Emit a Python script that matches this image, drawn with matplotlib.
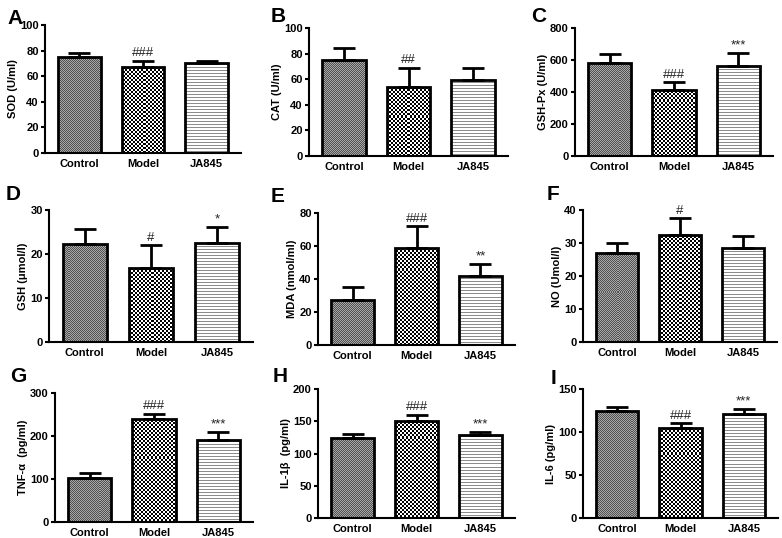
import numpy as np
import matplotlib
matplotlib.use("Agg")
import matplotlib.pyplot as plt

plt.rcParams['font.family'] = ['Liberation Sans', 'DejaVu Sans']

groups = ["Control", "Model", "JA845"]
letters = ["A", "B", "C", "D", "E", "F", "G", "H", "I"]
ylabels = ["SOD (U/ml)", "CAT (U/ml)", "GSH-Px (U/ml)", "GSH (\u03bcmol/l)", "MDA (nmol/ml)",
           "NO (Umol/l)", "TNF-\u03b1  (pg/ml)", "IL-1\u03b2  (pg/ml)", "IL-6 (pg/ml)"]
means = [[75, 67, 70], [75, 54, 59], [580, 415, 565],
         [22.2, 16.8, 22.4], [27, 59, 42], [27, 32.3, 28.5],
         [102, 240, 190], [124, 151, 129], [124, 105, 121]]
errors = [[3, 5, 1.5], [9, 15, 10], [55, 45, 80],
          [3.4, 5.2, 3.8], [8, 13, 7], [3, 5.2, 3.5],
          [11, 12, 20], [6, 9, 5], [5, 5, 6]]
ymax = [100, 100, 800, 30, 80, 40, 300, 200, 150]
ystep = [20, 20, 200, 10, 20, 10, 100, 50, 50]
marks = [["", "###", ""], ["", "##", ""], ["", "###", "***"],
         ["", "#", "*"], ["", "###", "**"], ["", "#", ""],
         ["", "###", "***"], ["", "###", "***"], ["", "###", "***"]]

# axes boxes in pixels: left, top, right, bottom
boxes = [(45, 25, 241, 153), (309, 28, 508, 156), (575, 28, 773, 156),
         (49, 210, 253, 342), (318, 213, 515, 345), (583, 210, 777, 342),
         (55, 393, 253, 522), (318, 389, 515, 518), (583, 389, 778, 518)]
letter_pos = [(15, 18), (278, 17), (539, 17), (13, 195), (278, 197), (553, 195),
              (18, 377), (280, 377), (553, 378)]

W, H = 782, 538
fig = plt.figure(figsize=(W / 100, H / 100), dpi=100)


def pattern(kind, w, h):
    yy, xx = np.mgrid[0:h, 0:w]
    img = np.ones((h, w, 3))
    if kind == 0:
        c = ((xx + yy) % 2 == 0)
        img[c] = 0.32
        img[~c] = 0.66
    elif kind == 1:
        c = ((xx // 2 + yy // 2) % 2 == 0)
        img[c] = 0.0
        img[~c] = 1.0
    else:
        c = (yy % 3 == 0)
        img[c] = 0.55
        img[~c] = 1.0
    return img


xs = np.arange(3)
bw = 0.67
xl = (-0.54, 2.54)
for i in range(9):
    l, t, r, b = boxes[i]
    ax = fig.add_axes([l / W, 1 - b / H, (r - l) / W, (b - t) / H])
    wpx, hpx = r - l, b - t
    bars = ax.bar(xs, means[i], width=bw, facecolor='none', edgecolor='black',
                  linewidth=2.0, zorder=3)
    for k, bar in enumerate(bars):
        im = ax.imshow(pattern(k, wpx, hpx), extent=(xl[0], xl[1], 0, ymax[i]),
                       aspect='auto', interpolation='nearest', zorder=2)
        im.set_clip_path(bar)
    ax.errorbar(xs, means[i], yerr=[np.zeros(3), errors[i]], fmt='none', ecolor='black',
                elinewidth=2.0, capsize=8, capthick=2.0, zorder=4)
    for k in range(3):
        if marks[i][k]:
            ax.text(xs[k], means[i][k] + errors[i][k] + ymax[i] * 0.012, marks[i][k],
                    ha='center', va='bottom', fontsize=9.5, color='#222222')
    ax.set_xlim(*xl)
    ax.set_ylim(0, ymax[i])
    ax.set_yticks(np.arange(0, ymax[i] + 0.1, ystep[i]))
    ax.set_xticks(xs)
    ax.set_xticklabels(groups, fontweight='bold', fontsize=8)
    for lab in ax.get_yticklabels():
        lab.set_fontweight('bold')
        lab.set_fontsize(8)
    ax.tick_params(axis='x', length=0, pad=4)
    ax.tick_params(axis='y', length=3, width=1.5, pad=1.5)
    ax.spines['top'].set_visible(False)
    ax.spines['right'].set_visible(False)
    ax.spines['left'].set_linewidth(1.5)
    ax.spines['bottom'].set_linewidth(1.5)
    ax.set_ylabel(ylabels[i], fontweight='bold', fontsize=8, labelpad=1.5)
    fig.text(letter_pos[i][0] / W, 1 - letter_pos[i][1] / H, letters[i], fontsize=15,
             fontweight='bold', ha='center', va='center')

fig.savefig("out.png", dpi=100)
